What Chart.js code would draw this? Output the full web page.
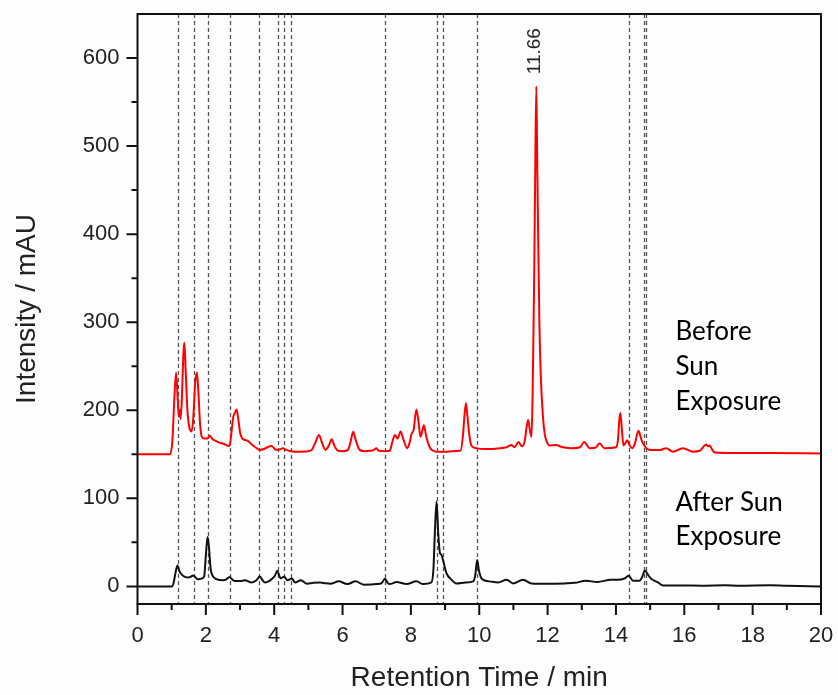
<!DOCTYPE html>
<html>
<head>
<meta charset="utf-8">
<script src="https://cdn.jsdelivr.net/npm/chart.js@4.4.1/dist/chart.umd.min.js"></script>
<style>
    html, body { margin: 0; padding: 0; background: #fbfdfe; }
    #wrap { width: 838px; height: 695px; }
</style>
</head>
<body>
<div id="wrap"><canvas id="chromChart" width="838" height="695"></canvas></div>
<script>
// retention times (min) and intensities (mAU)
const beforeTimes = [0, 0.95, 1.02, 1.08, 1.13, 1.18, 1.21, 1.24, 1.26, 1.30, 1.34, 1.37, 1.41, 1.46, 1.52, 1.58, 1.63, 1.69, 1.74, 1.78, 1.83, 1.88, 1.95, 2.05, 2.12, 2.20, 2.30, 2.41, 2.52, 2.62, 2.69, 2.75, 2.80, 2.85, 2.90, 2.95, 3.00, 3.09, 3.18, 3.24, 3.32, 3.45, 3.58, 3.70, 3.80, 3.92, 4.02, 4.12, 4.25, 4.35, 4.46, 4.60, 4.80, 5.00, 5.10, 5.20, 5.31, 5.40, 5.50, 5.60, 5.68, 5.77, 5.87, 6.00, 6.16, 6.24, 6.31, 6.38, 6.50, 6.65, 6.80, 6.92, 6.99, 7.06, 7.23, 7.38, 7.45, 7.53, 7.61, 7.70, 7.78, 7.89, 7.96, 8.02, 8.08, 8.16, 8.22, 8.28, 8.33, 8.38, 8.45, 8.55, 8.65, 8.75, 9.00, 9.20, 9.45, 9.52, 9.57, 9.61, 9.65, 9.70, 9.77, 9.90, 10.20, 10.60, 10.80, 10.94, 11.03, 11.15, 11.25, 11.33, 11.39, 11.43, 11.48, 11.53, 11.56, 11.58, 11.61, 11.64, 11.67, 11.70, 11.73, 11.76, 11.80, 11.86, 11.92, 11.97, 12.06, 12.24, 12.45, 12.74, 12.95, 13.07, 13.23, 13.40, 13.52, 13.66, 14.00, 14.06, 14.10, 14.13, 14.17, 14.22, 14.28, 14.33, 14.40, 14.48, 14.56, 14.62, 14.66, 14.72, 14.77, 14.89, 15.00, 15.30, 15.47, 15.67, 15.96, 16.25, 16.45, 16.57, 16.64, 16.70, 16.74, 16.82, 16.89, 17.50, 18.50, 20];
const beforeValues = [150, 150, 165, 215, 243, 210, 193, 200, 190, 215, 262, 277, 245, 200, 180, 176, 190, 232, 243, 222, 185, 170, 168, 168, 171, 167, 165, 163, 162, 160, 159.5, 175, 192, 197, 201, 190, 175, 167, 166, 165, 162, 158, 155, 156, 158, 159.5, 156, 155, 157, 155, 153.8, 153, 153, 153.5, 155, 163, 172, 163, 155, 160, 167, 159, 154, 153.5, 155, 165, 175.7, 167, 155, 153.5, 154, 155, 157, 154, 153.5, 154, 163, 172, 168, 176, 167, 157, 163, 173, 178, 201, 188, 170, 176, 183, 170, 158, 154, 153, 153, 153.5, 154, 170, 195, 208, 195, 175, 160, 157, 156, 157, 158, 160.6, 158, 164, 159, 165, 182, 189, 178, 170, 215, 270, 360, 480, 568, 470, 380, 300, 240, 195, 172, 165, 160, 160.5, 158, 157, 158, 164, 157, 157.5, 162.5, 157, 158, 167, 190, 197, 180, 160, 163, 166, 160, 157, 163, 173, 176.8, 170, 164, 157, 155, 155, 157, 153, 157, 153, 154, 159, 161, 159, 160, 155, 152, 151.5, 151.5, 151];

const afterTimes = [0, 1.00, 1.05, 1.12, 1.17, 1.23, 1.33, 1.48, 1.56, 1.63, 1.70, 1.78, 1.88, 1.95, 2.00, 2.05, 2.09, 2.14, 2.20, 2.31, 2.51, 2.60, 2.69, 2.77, 2.85, 3.00, 3.14, 3.34, 3.48, 3.58, 3.66, 3.73, 3.85, 3.92, 4.02, 4.09, 4.15, 4.19, 4.29, 4.39, 4.52, 4.61, 4.78, 4.96, 5.15, 5.35, 5.50, 5.64, 5.89, 6.14, 6.38, 6.62, 7.00, 7.15, 7.24, 7.32, 7.38, 7.58, 7.87, 8.16, 8.36, 8.60, 8.66, 8.70, 8.75, 8.80, 8.85, 8.89, 8.94, 9.04, 9.18, 9.33, 9.60, 9.82, 9.88, 9.94, 9.99, 10.08, 10.30, 10.55, 10.80, 10.99, 11.28, 11.53, 12.00, 12.50, 12.80, 13.12, 13.46, 13.85, 14.05, 14.25, 14.37, 14.50, 14.69, 14.78, 14.84, 14.94, 15.04, 15.15, 15.23, 15.38, 15.96, 16.50, 17.20, 17.60, 18.50, 19.00, 20];
const afterValues = [0, 0, 3, 17, 23.8, 17, 12, 10, 11, 12.5, 10, 8, 9, 11, 35, 56, 45, 20, 12, 8.3, 7, 8, 10.6, 8, 6, 6, 7, 4.5, 7, 11.3, 7, 4.5, 6, 8, 12, 17.8, 12, 9, 11, 7, 9, 4.5, 7, 3, 4, 4.5, 3.5, 3, 5.7, 2.6, 5.7, 2, 2.6, 4, 8.7, 4, 2.6, 5, 2.6, 5.7, 2.6, 4.5, 20, 60, 96.3, 60, 38, 36, 30, 15, 8, 3.4, 4.5, 5.7, 12, 30, 18, 8.3, 5.7, 4.5, 7.5, 3.4, 7.5, 3.4, 3, 3.4, 4, 6.4, 5, 7.5, 7.5, 9, 12, 6.4, 6.4, 12, 18, 13, 8.3, 6, 4.5, 1, 1, 0.8, 1.3, 0.8, 1.2, 0.6, 0];

// dashed reference lines (retention times)
const markerTimes = [1.19, 1.66, 2.07, 2.70, 3.56, 4.10, 4.29, 4.49, 7.24, 8.75, 8.94, 9.92, 14.38, 14.82, 14.89];

// tick values
const xMajorTicks = [0, 2, 4, 6, 8, 10, 12, 14, 16, 18, 20];
const xMinorTicks = [1, 3, 5, 7, 9, 11, 13, 15, 17, 19];
const yMajorTicks = [0, 100, 200, 300, 400, 500, 600];
const yMinorTicks = [50, 150, 250, 350, 450, 550];

// peak annotation
const peakLabel = '11.66';
const peakTime = 11.67;
const peakValue = 568;

const beforeLabel = ['Before', 'Sun', 'Exposure'];
const afterLabel = ['After Sun', 'Exposure'];

const AXIS_FONT = '"Liberation Sans", Arial, Helvetica, sans-serif';

function toPoints(xs, ys) {
    return xs.map((t, i) => ({ x: t, y: ys[i] }));
}

// frame, tick marks, dashed markers and text labels
const decorPlugin = {
    id: 'decor',
    beforeDatasetsDraw(chart) {
        const { ctx, chartArea: a, scales: { x } } = chart;
        ctx.save();
        ctx.strokeStyle = '#555';
        ctx.lineWidth = 1.3;
        ctx.setLineDash([4, 3]);
        markerTimes.forEach(t => {
            const px = Math.round(x.getPixelForValue(t)) + 0.5;
            ctx.beginPath();
            ctx.moveTo(px, a.top);
            ctx.lineTo(px, a.bottom);
            ctx.stroke();
        });
        ctx.restore();
    },
    afterDatasetsDraw(chart) {
        const { ctx, chartArea: a, scales: { x, y } } = chart;
        ctx.save();
        ctx.strokeStyle = '#111';
        ctx.lineWidth = 2;
        ctx.strokeRect(a.left, a.top, a.right - a.left, a.bottom - a.top);

        ctx.beginPath();
        xMajorTicks.forEach(v => {
            const px = x.getPixelForValue(v);
            ctx.moveTo(px, a.bottom); ctx.lineTo(px, a.bottom + 11);
        });
        xMinorTicks.forEach(v => {
            const px = x.getPixelForValue(v);
            ctx.moveTo(px, a.bottom); ctx.lineTo(px, a.bottom + 6);
        });
        yMajorTicks.forEach(v => {
            const py = y.getPixelForValue(v);
            ctx.moveTo(a.left, py); ctx.lineTo(a.left - 11, py);
        });
        yMinorTicks.forEach(v => {
            const py = y.getPixelForValue(v);
            ctx.moveTo(a.left, py); ctx.lineTo(a.left - 6, py);
        });
        ctx.stroke();

        // peak label, rotated
        ctx.fillStyle = '#222';
        ctx.font = '19px ' + AXIS_FONT;
        ctx.translate(x.getPixelForValue(peakTime) - 2, y.getPixelForValue(peakValue) - 12);
        ctx.rotate(-Math.PI / 2);
        ctx.textAlign = 'left';
        ctx.textBaseline = 'middle';
        ctx.fillText(peakLabel, 0, 0);
        ctx.setTransform(1, 0, 0, 1, 0, 0);

        // trace labels
        ctx.fillStyle = '#000';
        ctx.font = '26px Lato, "Open Sans", sans-serif';
        ctx.textAlign = 'left';
        ctx.textBaseline = 'alphabetic';
        const lx = x.getPixelForValue(15.74);
        const bY = [279.5, 240, 200];
        beforeLabel.forEach((s, i) => ctx.fillText(s, lx, y.getPixelForValue(bY[i])));
        const aY = [85.5, 46.5];
        afterLabel.forEach((s, i) => ctx.fillText(s, lx, y.getPixelForValue(aY[i])));
        ctx.restore();
    }
};

const ctx = document.getElementById('chromChart');
new Chart(ctx, {
    type: 'line',
    data: {
        datasets: [{
            label: 'Before Sun Exposure',
            data: toPoints(beforeTimes, beforeValues),
            borderColor: '#f00',
            borderWidth: 2,
            pointRadius: 0,
            cubicInterpolationMode: 'monotone'
        }, {
            label: 'After Sun Exposure',
            data: toPoints(afterTimes, afterValues),
            borderColor: '#111',
            borderWidth: 2,
            pointRadius: 0,
            cubicInterpolationMode: 'monotone'
        }]
    },
    options: {
        responsive: false,
        animation: false,
        layout: { padding: { top: 14, right: 17, left: 0, bottom: 0 } },
        plugins: {
            legend: { display: false },
            tooltip: { enabled: false }
        },
        scales: {
            x: {
                type: 'linear',
                min: 0,
                max: 20,
                afterBuildTicks: s => { s.ticks = xMajorTicks.map(v => ({ value: v })); },
                afterFit: s => { s.height = 91; s.paddingLeft = 0; s.paddingRight = 0; },
                grid: { drawOnChartArea: false, drawTicks: false },
                border: { display: false },
                ticks: { color: '#222', padding: 19, font: { family: AXIS_FONT, size: 22 } },
                title: {
                    display: true,
                    text: 'Retention Time / min',
                    color: '#222',
                    padding: { top: 0, bottom: 0 },
                    font: { family: AXIS_FONT, size: 28 }
                }
            },
            y: {
                type: 'linear',
                min: -20,
                max: 650,
                afterBuildTicks: s => { s.ticks = yMajorTicks.map(v => ({ value: v })); },
                afterFit: s => { s.width = 137.5; s.paddingTop = 0; s.paddingBottom = 0; },
                grid: { drawOnChartArea: false, drawTicks: false },
                border: { display: false },
                ticks: { color: '#222', padding: 18, font: { family: AXIS_FONT, size: 22 } },
                title: {
                    display: true,
                    text: 'Intensity / mAU',
                    color: '#222',
                    padding: { top: 10, bottom: 0 },
                    font: { family: AXIS_FONT, size: 28 }
                }
            }
        }
    },
    plugins: [decorPlugin]
});
</script>
</body>
</html>
